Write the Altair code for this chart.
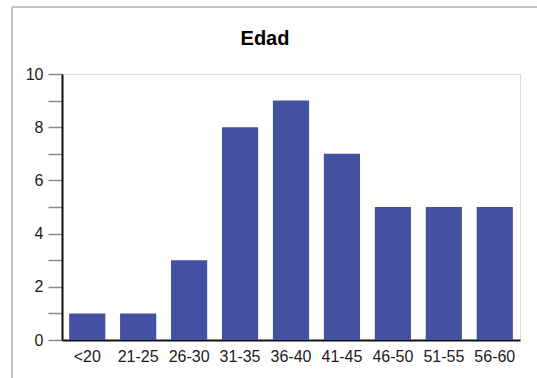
import altair as alt
import pandas as pd

# Age groups and their counts
age_groups = ["<20", "21-25", "26-30", "31-35", "36-40", "41-45", "46-50", "51-55", "56-60"]
counts = [1, 1, 3, 8, 9, 7, 5, 5, 5]
y_ticks = [0, 1, 2, 3, 4, 5, 6, 7, 8, 9, 10]
title_text = ["Edad"]

df = pd.DataFrame({"edad": age_groups, "n": counts})

FONT = "Liberation Sans"

bars = alt.Chart(df).mark_bar(color="#4451a2").encode(
    x=alt.X(
        "edad:N",
        sort=age_groups,
        title=None,
        scale=alt.Scale(paddingInner=0.29, paddingOuter=0.14),
        axis=alt.Axis(
            labelAngle=0,
            ticks=False,
            domainColor="#111111",
            domainWidth=2,
            labelFont=FONT,
            labelFontSize=16,
            labelColor="#1a1a1a",
            labelPadding=8,
        ),
    ),
    y=alt.Y(
        "n:Q",
        title=None,
        scale=alt.Scale(domain=[0, 10], nice=False),
        axis=alt.Axis(
            values=y_ticks,
            labelExpr="datum.value % 2 == 0 ? datum.label : ''",
            grid=False,
            tickColor="#8a8a8a",
            tickSize=14,
            tickWidth=1.5,
            domainColor="#111111",
            domainWidth=2,
            labelFont=FONT,
            labelFontSize=16,
            labelColor="#1a1a1a",
            labelPadding=5,
        ),
    ),
)

# Chart heading, drawn as a text mark so it sits left of the plot centre
heading = alt.Chart(pd.DataFrame({"t": title_text})).mark_text(
    font=FONT, fontSize=20, fontWeight="bold", color="#000000",
    align="center", baseline="middle",
).encode(text="t:N", x=alt.value(203), y=alt.value(-35))

# Thin grey frame along the top and left edges
frame_top = alt.Chart(df).mark_rule(color="#c4c4c4", strokeWidth=1.5).encode(
    x=alt.value(-50), x2=alt.value(480), y=alt.value(-67)
)
frame_left = alt.Chart(df).mark_rule(color="#c4c4c4", strokeWidth=1.5).encode(
    x=alt.value(-50), y=alt.value(-67), y2=alt.value(310)
)

chart = (
    alt.layer(frame_top, frame_left, heading, bars)
    .properties(
        width=458,
        height=266,
        autosize=alt.AutoSizeParams(type="none"),
        padding={"left": 62, "top": 74, "right": 17, "bottom": 38},
    )
    .configure_view(stroke=None)
    .configure(background="white")
)

chart.save("out.html", embed_options={"renderer": "svg", "actions": False})
